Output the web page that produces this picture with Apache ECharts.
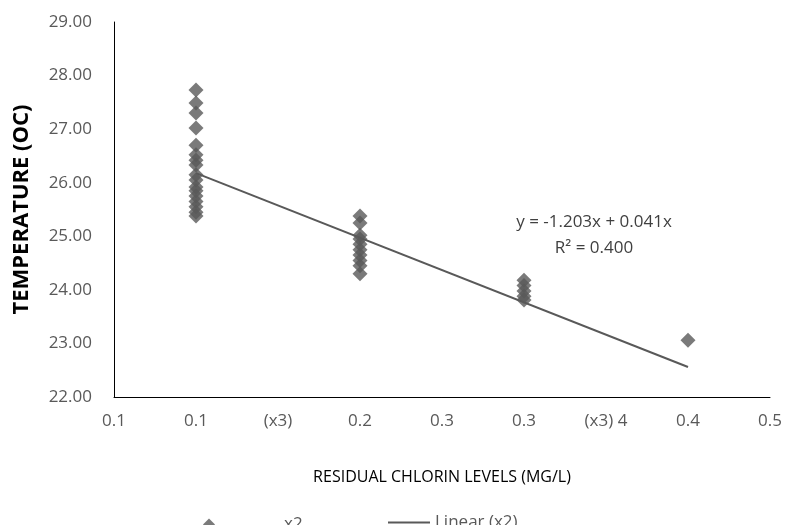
<!DOCTYPE html>
<html>
<head>
<meta charset="utf-8">
<script src="https://cdn.jsdelivr.net/npm/echarts@6/dist/echarts.min.js"></script>
<style>
  html, body { margin: 0; padding: 0; background: #fff; }
  #chart { width: 787px; height: 525px; }
</style>
</head>
<body>
<div id="chart"></div>
<script>
// residual chlorine (mg/L) vs temperature (oC)
const x01 = [27.73, 27.49, 27.30, 27.02, 26.70, 26.52, 26.42, 26.33, 26.15, 26.05,
  25.92, 25.85, 25.75, 25.65, 25.55, 25.45, 25.38]
const x02 = [25.38, 25.25, 25.02, 24.95, 24.85, 24.75, 24.65, 24.55, 24.45, 24.30]
const x03 = [24.18, 24.08, 23.98, 23.88, 23.81]
const x04 = [23.06]
const trendX = [0.1, 0.4]
const trendY = [26.18, 22.56]
const xTickLabels = ['0.1', '0.1', '(x3)', '0.2', '0.3', '0.3', '(x3) 4', '0.4', '0.5']

const points = []
x01.forEach(v => points.push([0.1, v]))
x02.forEach(v => points.push([0.2, v]))
x03.forEach(v => points.push([0.3, v]))
x04.forEach(v => points.push([0.4, v]))

const font = "'Open Sans', 'Noto Sans', sans-serif"
const grey = '#595959'

const chart = echarts.init(document.getElementById('chart'))
chart.setOption({
  animation: false,
  textStyle: { fontFamily: font },
  grid: { left: 114, right: 17, top: 22, bottom: 128 },
  xAxis: {
    type: 'value',
    min: 0.05,
    max: 0.45,
    interval: 0.05,
    name: 'RESIDUAL CHLORIN LEVELS (MG/L)',
    nameLocation: 'middle',
    nameGap: 72,
    nameTextStyle: { fontSize: 16, color: '#000', fontFamily: font },
    axisLine: { lineStyle: { color: '#000', width: 1 } },
    axisTick: { show: false },
    splitLine: { show: false },
    axisLabel: {
      color: grey,
      fontSize: 17,
      margin: 16,
      showMinLabel: true,
      showMaxLabel: true,
      formatter: (val, idx) => xTickLabels[idx]
    }
  },
  yAxis: {
    type: 'value',
    min: 22,
    max: 29,
    interval: 1,
    name: 'TEMPERATURE (OC)',
    nameLocation: 'middle',
    nameGap: 81,
    nameTextStyle: { fontSize: 22, fontWeight: 'bold', color: '#000', fontFamily: font },
    axisLine: { show: true, lineStyle: { color: '#000', width: 1 } },
    axisTick: { show: false },
    splitLine: { show: false },
    axisLabel: {
      color: grey,
      fontSize: 17,
      margin: 22,
      formatter: v => v.toFixed(2)
    }
  },
  legend: [
    {
      left: 198,
      top: 511,
      itemWidth: 12,
      itemHeight: 12,
      data: [{ name: 'x2', icon: 'diamond' }],
      textStyle: { color: grey, fontSize: 17, rich: { p: { width: 64 } } },
      formatter: name => '{p|}' + name
    },
    {
      left: 383,
      top: 509,
      itemWidth: 42,
      itemHeight: 2,
      data: [{ name: 'Linear (x2)', icon: 'rect' }],
      textStyle: { color: grey, fontSize: 17 },
      itemGap: 2
    }
  ],
  graphic: [
    {
      type: 'text',
      style: {
        x: 594, y: 222, text: 'y = -1.203x + 0.041x',
        align: 'center', verticalAlign: 'middle',
        fill: '#404040', font: "17px 'Open Sans', sans-serif"
      }
    },
    {
      type: 'text',
      style: {
        x: 594, y: 248, text: 'R² = 0.400',
        align: 'center', verticalAlign: 'middle',
        fill: '#404040', font: "17px 'Open Sans', sans-serif"
      }
    }
  ],
  series: [
    {
      name: 'x2',
      type: 'scatter',
      symbol: 'diamond',
      symbolSize: 15,
      itemStyle: { color: grey },
      data: points,
      z: 3
    },
    {
      name: 'Linear (x2)',
      type: 'line',
      symbol: 'none',
      lineStyle: { color: grey, width: 2 },
      itemStyle: { color: grey },
      data: trendX.map((x, i) => [x, trendY[i]]),
      z: 2
    }
  ]
})
</script>
</body>
</html>
